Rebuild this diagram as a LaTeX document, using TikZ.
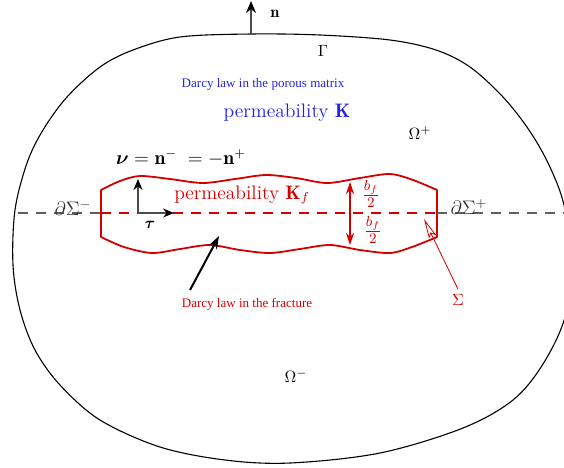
\documentclass[tikz,border=0pt]{standalone}
\usepackage{amsmath}
\usepackage{bm}
\usepackage{fontspec}
\newfontfamily\timesfont{Liberation Serif}
\usetikzlibrary{arrows.meta}
\definecolor{fracred}{RGB}{212,0,0}
\definecolor{matblue}{RGB}{35,35,225}
\definecolor{dashgray}{RGB}{95,95,95}
\begin{document}
\begin{tikzpicture}[x=1pt,y=-1pt,
  lbl/.style={inner sep=0pt, scale=1.63, transform shape, font=\normalsize},
  lbig/.style={inner sep=0pt, scale=1.63, transform shape, font=\large},
  lfrac/.style={inner sep=0pt, scale=1.63, transform shape, font=\fontsize{12.5}{14}\selectfont},
  darcy/.style={inner sep=0pt, scale=1.63, transform shape, font=\timesfont\footnotesize},
  grayarrow/.style={draw=black!70, line width=1.5pt, -{Stealth[length=11pt,width=9pt,color=black]}},
  redarrow/.style={draw=fracred, line width=1.2pt, -{Stealth[length=12pt,width=8pt]}},
  dashline/.style={line width=1.8pt, dash pattern=on 10pt off 8pt}]
\useasboundingbox (0,0) rectangle (564,467);

% outer boundary Gamma
\draw[line width=1.1pt] plot[smooth cycle, tension=0.55] coordinates {
  (251,34) (320,35) (390,40) (436,50) (470,67) (503,97) (529,130) (549,165)
  (564,205) (571,260) (565,317) (543,364) (513,400) (463,428) (380,453)
  (290,463) (225,460) (160,447) (100,420) (60,385) (35,350) (20,310)
  (13,265) (15,210) (27,163) (43,130) (67,97) (100,67) (133,50) (180,37)};

% fracture outline
\draw[fracred, line width=1.8pt, line join=round]
  plot[smooth] coordinates {(101,190) (120,181) (140,176) (170,179) (203,183)
     (235,179) (266,175) (296,178) (327,183) (360,178) (390,174) (413,180) (437,190)}
  -- (437,237)
  -- plot[smooth] coordinates {(437,237) (412,247) (390,253) (360,250) (330,245)
     (300,249) (270,253) (240,250) (210,245) (180,249) (152,253) (124,247) (101,237)}
  -- cycle;

% mid line
\coordinate (dl) at (18,213);
\coordinate (fl) at (101,213);
\coordinate (fr) at (437,213);
\coordinate (dr) at (572,213);
\draw[dashgray, dashline] (dl) -- (fl);
\draw[fracred, dashline, line width=2.5pt] (fl) -- (fr);
\draw[dashgray, dashline] (fr) -- (dr);

% normal n at the top
\coordinate (nb) at (251,34);
\coordinate (nt) at (251,1);
\draw[grayarrow, -{Stealth[length=12pt,width=10pt,color=black]}] (nb) -- (nt);
\node[lbl] (nlab) at (275,14) {$\mathbf{n}$};

% labels
\node[lbl] (gam) at (323,51) {$\Gamma$};
\node[darcy, text=matblue] (darcym) at (263,84) {Darcy law in the porous matrix};
\node[lbig, text=matblue] (permK) at (287,113) {permeability $\mathbf{K}$};
\node[lbl] (omp) at (420,133) {$\Omega^+$};
\node[lbig] (nueq) at (181,158) {$\boldsymbol{\nu} = \mathbf{n}^-\; = -\mathbf{n}^+$};
\node[lbig, text=fracred] (permKf) at (242,195) {permeability $\mathbf{K}_f$};
\node[lbig, text=black!80] (dsm) at (73,208) {$\partial\Sigma^-$};
\node[lbig, text=black!80] (dsp) at (469,207) {$\partial\Sigma^+$};
\node[lbl] (tau) at (150,225) {$\boldsymbol{\tau}$};
\node[lfrac, text=fracred] (bfu) at (371,194) {$\frac{b_f}{2}$};
\node[lfrac, text=fracred] (bfd) at (373,230) {$\frac{b_f}{2}$};
\node[lbl, text=fracred, inner sep=3pt] (sig) at (458,300) {$\Sigma$};
\node[darcy, text=fracred] (darcyf) at (247,304) {Darcy law in the fracture};
\node[lbl] (omm) at (296,376) {$\Omega^-$};

% local frame
\coordinate (o) at (138,213);
\coordinate (nutip) at (138,179);
\coordinate (tautip) at (174,213);
\draw[grayarrow] (o) -- (nutip);
\draw[grayarrow] (o) -- (tautip);

% aperture arrows
\coordinate (c) at (350,213);
\coordinate (cu) at (350,182);
\coordinate (cd) at (350,245);
\draw[redarrow] (c) -- (cu);
\draw[redarrow] (c) -- (cd);

% Sigma pointer
\coordinate (sigtip) at (424,219);
\draw[fracred, line width=0.8pt, -{Stealth[open,length=20pt,width=8pt,inset=4pt]}] (sig.north) -- (sigtip);

% fracture Darcy pointer
\coordinate (fa) at (190,290);
\coordinate (fb) at (219,236);
\draw[line width=2pt, -{Stealth[length=13pt,width=9pt]}] (fa) -- (fb);
\end{tikzpicture}
\end{document}
